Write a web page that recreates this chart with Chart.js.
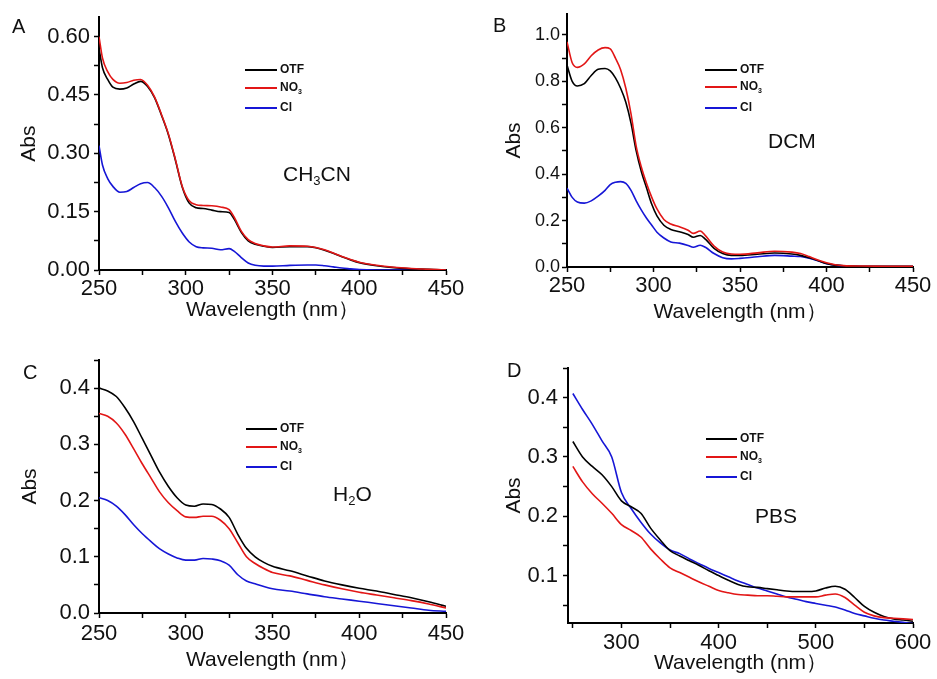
<!DOCTYPE html>
<html>
<head>
<meta charset="utf-8">
<script src="https://cdn.jsdelivr.net/npm/chart.js@4.4.1/dist/chart.umd.min.js"></script>
<style>
body{margin:0;background:#fff;}
#wrap{position:relative;width:937px;height:679px;}
canvas{position:absolute;}
</style>
</head>
<body>
<div id="wrap">
<canvas id="pa" width="468" height="340" style="left:0;top:0"></canvas>
<canvas id="pb" width="469" height="340" style="left:468px;top:0"></canvas>
<canvas id="pc" width="468" height="339" style="left:0;top:340px"></canvas>
<canvas id="pd" width="469" height="339" style="left:468px;top:340px"></canvas>
</div>
<script>
// --- A: CH3CN
var nmA  = [250,252,255,258,262,266,270,274,278,282,286,290,294,298,302,306,310,315,320,325,328,332,336,340,345,350,360,370,375,380,385,390,395,400,410,420,430,440,450];
var otfA = [0.57,0.52,0.49,0.47,0.465,0.468,0.478,0.485,0.472,0.443,0.398,0.348,0.283,0.213,0.172,0.160,0.158,0.154,0.150,0.148,0.130,0.097,0.075,0.066,0.061,0.058,0.060,0.060,0.057,0.051,0.043,0.034,0.026,0.019,0.011,0.006,0.003,0.002,0.000];
var no3A = [0.60,0.545,0.51,0.49,0.48,0.482,0.488,0.49,0.475,0.445,0.40,0.35,0.285,0.215,0.178,0.168,0.166,0.165,0.162,0.155,0.135,0.10,0.078,0.068,0.062,0.059,0.062,0.061,0.058,0.052,0.044,0.035,0.027,0.020,0.012,0.007,0.004,0.002,0.000];
var clA  = [0.32,0.27,0.235,0.215,0.20,0.202,0.212,0.222,0.225,0.212,0.19,0.16,0.125,0.095,0.072,0.060,0.057,0.056,0.052,0.055,0.048,0.032,0.018,0.012,0.010,0.010,0.012,0.013,0.013,0.011,0.008,0.005,0.003,0.001,0,0,0,0,0];

// --- B: DCM
var nmB  = [250,253,256,260,264,268,272,275,278,281,284,287,290,293,296,299,302,306,310,315,320,323,327,330,335,340,345,350,360,370,380,385,390,395,400,405,410,420,435,450];
var otfB = [0.87,0.80,0.78,0.79,0.825,0.852,0.855,0.845,0.815,0.77,0.71,0.62,0.50,0.41,0.34,0.27,0.22,0.18,0.162,0.152,0.14,0.128,0.136,0.12,0.08,0.058,0.05,0.05,0.055,0.06,0.056,0.05,0.04,0.028,0.015,0.008,0.005,0.003,0.003,0.003];
var no3B = [0.97,0.88,0.86,0.875,0.91,0.935,0.945,0.94,0.90,0.85,0.77,0.66,0.52,0.43,0.36,0.30,0.25,0.205,0.185,0.173,0.158,0.145,0.155,0.135,0.09,0.065,0.056,0.055,0.061,0.068,0.064,0.058,0.045,0.03,0.018,0.01,0.006,0.004,0.003,0.003];
var clB  = [0.34,0.30,0.28,0.275,0.285,0.305,0.33,0.355,0.365,0.368,0.36,0.33,0.285,0.245,0.21,0.18,0.15,0.125,0.108,0.103,0.093,0.085,0.094,0.085,0.058,0.04,0.035,0.037,0.044,0.05,0.047,0.045,0.038,0.027,0.014,0.008,0.004,0.002,0.002,0.002];

// --- C: H2O
var nmC  = [250,255,260,265,270,275,280,285,290,295,300,305,310,315,320,325,330,335,340,345,350,360,370,380,390,400,410,420,430,440,450];
var otfC = [0.40,0.395,0.385,0.365,0.34,0.31,0.28,0.25,0.225,0.205,0.192,0.19,0.194,0.193,0.185,0.17,0.14,0.115,0.10,0.09,0.083,0.075,0.066,0.057,0.05,0.044,0.039,0.033,0.027,0.02,0.012];
var no3C = [0.355,0.35,0.338,0.318,0.292,0.265,0.24,0.215,0.196,0.182,0.171,0.170,0.172,0.172,0.165,0.15,0.125,0.10,0.088,0.079,0.072,0.066,0.058,0.05,0.043,0.037,0.032,0.027,0.022,0.016,0.009];
var clC  = [0.205,0.20,0.19,0.175,0.157,0.141,0.127,0.114,0.105,0.098,0.094,0.094,0.097,0.096,0.093,0.085,0.068,0.057,0.052,0.047,0.043,0.039,0.034,0.029,0.025,0.021,0.017,0.013,0.009,0.005,0.003];

// --- D: PBS
var nmD  = [250,260,270,280,290,300,310,320,330,340,350,360,370,380,390,400,410,420,430,440,450,460,470,480,490,500,510,520,530,540,550,560,570,580,590,600];
var otfD = [0.326,0.30,0.284,0.27,0.25,0.226,0.216,0.205,0.18,0.16,0.142,0.133,0.125,0.117,0.108,0.10,0.092,0.085,0.081,0.080,0.078,0.076,0.074,0.073,0.073,0.074,0.079,0.082,0.077,0.063,0.048,0.038,0.031,0.027,0.025,0.023];
var no3D = [0.284,0.258,0.238,0.222,0.205,0.186,0.176,0.165,0.145,0.128,0.113,0.105,0.097,0.089,0.082,0.075,0.071,0.068,0.067,0.066,0.066,0.065,0.064,0.064,0.064,0.064,0.067,0.069,0.063,0.05,0.038,0.032,0.029,0.028,0.027,0.026];
var clD  = [0.407,0.38,0.355,0.327,0.30,0.24,0.213,0.19,0.17,0.155,0.143,0.137,0.128,0.12,0.112,0.105,0.098,0.091,0.085,0.079,0.074,0.069,0.064,0.06,0.056,0.053,0.05,0.047,0.042,0.036,0.032,0.028,0.025,0.023,0.021,0.019];

var seriesNames = ['OTF', 'NO3', 'Cl'];
var BLACK = '#000000', RED = 'rgb(226,22,22)', BLUE = 'rgb(22,22,214)';
var FONT = "'Liberation Sans', Arial, sans-serif";

// draws text, digits after a letter become subscripts (NO3, CH3CN, H2O)
function chemText(ctx, str, x, y, size, weight) {
  var parts = str.match(/[0-9]+|[^0-9]+/g) || [];
  var cx = x;
  parts.forEach(function (p, i) {
    var sub = /[0-9]/.test(p) && i > 0;
    ctx.font = weight + ' ' + (sub ? Math.round(size * 0.62) : size) + 'px ' + FONT;
    ctx.fillText(p, cx, sub ? y + size * 0.32 : y);
    cx += ctx.measureText(p).width;
  });
}

var decor = {
  id: 'decor',
  afterDraw: function (chart, args, o) {
    var ctx = chart.ctx;
    ctx.save();
    ctx.fillStyle = '#111';
    ctx.textBaseline = 'middle';
    ctx.textAlign = 'left';
    chemText(ctx, o.letter, o.letterX, o.letterY, 20, 'normal');
    chemText(ctx, o.solvent, o.solventX, o.solventY, 21, 'normal');
    chart.data.datasets.forEach(function (ds, i) {
      var y = o.rows[i];
      ctx.strokeStyle = ds.borderColor;
      ctx.lineWidth = 2;
      ctx.beginPath();
      ctx.moveTo(o.legX0, y);
      ctx.lineTo(o.legX1, y);
      ctx.stroke();
      chemText(ctx, ds.label, o.legX1 + 3, y, 12, 'bold');
    });
    ctx.restore();
  }
};

function stepTicks(step) {
  return function (scale) {
    var t = [];
    var n0 = Math.ceil(scale.min / step - 1e-9), n1 = Math.floor(scale.max / step + 1e-9);
    for (var n = n0; n <= n1; n++) t.push({value: +(n * step).toFixed(6)});
    scale.ticks = t;
  };
}
function labelEvery(step, dec) {
  return function (v) {
    var r = v / step;
    return Math.abs(r - Math.round(r)) < 1e-6 ? v.toFixed(dec) : '';
  };
}

function panel(id, nm, otf, no3, cl, p) {
  var pts = function (arr) { return nm.map(function (v, i) { return {x: v, y: arr[i]}; }); };
  var line = {borderWidth: 1.6, pointRadius: 0, cubicInterpolationMode: 'monotone', fill: false};
  return new Chart(document.getElementById(id).getContext('2d'), {
    type: 'line',
    data: {
      datasets: [
        Object.assign({label: seriesNames[0], data: pts(otf), borderColor: BLACK, order: 1}, line),
        Object.assign({label: seriesNames[1], data: pts(no3), borderColor: RED, order: 0}, line),
        Object.assign({label: seriesNames[2], data: pts(cl), borderColor: BLUE, order: 2}, line)
      ]
    },
    options: {
      responsive: false,
      animation: false,
      layout: {padding: {top: p.padTop, right: p.padRight, left: 0, bottom: 0}},
      plugins: {legend: {display: false}, tooltip: {enabled: false}, decor: p.decor},
      scales: {
        x: {
          type: 'linear', min: p.xMin, max: p.xMax,
          afterBuildTicks: stepTicks(p.xStep),
          afterFit: function (s) { s.height = p.xHeight; },
          grid: {drawOnChartArea: false, drawTicks: true, tickLength: 5, tickColor: '#000', tickWidth: 1.5},
          border: {display: true, color: '#000', width: 2},
          ticks: {autoSkip: false, maxRotation: 0, padding: p.xTickPad, color: '#111',
                  font: {family: FONT, size: 22}, callback: labelEvery(p.xLabelStep, 0)},
          title: {display: true, text: 'Wavelength (nm）', color: '#111',
                  font: {family: FONT, size: 21}, padding: {top: 0, bottom: p.xTitlePad}}
        },
        y: {
          type: 'linear', min: p.yMin, max: p.yMax,
          afterBuildTicks: stepTicks(p.yStep),
          afterFit: function (s) { s.width = p.yWidth; },
          grid: {drawOnChartArea: false, drawTicks: true, tickLength: 5, tickColor: '#000', tickWidth: 1.5},
          border: {display: true, color: '#000', width: 2},
          ticks: {autoSkip: false, padding: p.yTickPad, color: '#111',
                  font: {family: FONT, size: p.yTickSize}, callback: labelEvery(p.yLabelStep, p.yDec)},
          title: {display: true, text: 'Abs', color: '#111',
                  font: {family: FONT, size: 21}, padding: {top: p.yTitlePad, bottom: 0}}
        }
      }
    },
    plugins: [decor]
  });
}

panel('pa', nmA, otfA, no3A, clA, {
  xMin: 250, xMax: 450, xStep: 25, xLabelStep: 50,
  yMin: 0, yMax: 0.65, yStep: 0.075, yLabelStep: 0.15, yDec: 2, yTickSize: 22,
  padTop: 17, padRight: 22, yWidth: 99, xHeight: 70,
  xTickPad: 1, yTickPad: 4, xTitlePad: 17, yTitlePad: 17,
  decor: {letter: 'A', letterX: 12, letterY: 27, solvent: 'CH3CN', solventX: 283, solventY: 175,
          legX0: 245, legX1: 277, rows: [70, 88, 108]}
});

panel('pb', nmB, otfB, no3B, clB, {
  xMin: 250, xMax: 450, xStep: 25, xLabelStep: 50,
  yMin: 0, yMax: 1.09, yStep: 0.1, yLabelStep: 0.2, yDec: 1, yTickSize: 18,
  padTop: 14, padRight: 24, yWidth: 99, xHeight: 73,
  xTickPad: 1, yTickPad: 2, xTitlePad: 15, yTitlePad: 34,
  decor: {letter: 'B', letterX: 25, letterY: 26, solvent: 'DCM', solventX: 300, solventY: 142,
          legX0: 237, legX1: 269, rows: [70, 87, 108]}
});

panel('pc', nmC, otfC, no3C, clC, {
  xMin: 250, xMax: 450, xStep: 25, xLabelStep: 50,
  yMin: 0, yMax: 0.45, yStep: 0.05, yLabelStep: 0.1, yDec: 1, yTickSize: 22,
  padTop: 20, padRight: 22, yWidth: 99, xHeight: 66,
  xTickPad: 3, yTickPad: 4, xTitlePad: 6, yTitlePad: 18,
  decor: {letter: 'C', letterX: 23, letterY: 33, solvent: 'H2O', solventX: 333, solventY: 155,
          legX0: 246, legX1: 277, rows: [89, 107, 127]}
});

panel('pd', nmD, otfD, no3D, clD, {
  xMin: 245, xMax: 600, xStep: 50, xLabelStep: 100,
  yMin: 0.02, yMax: 0.45, yStep: 0.05, yLabelStep: 0.1, yDec: 1, yTickSize: 22,
  padTop: 28, padRight: 24, yWidth: 100, xHeight: 56,
  xTickPad: 2, yTickPad: 5, xTitlePad: 3, yTitlePad: 34,
  decor: {letter: 'D', letterX: 39, letterY: 31, solvent: 'PBS', solventX: 287, solventY: 177,
          legX0: 238, legX1: 269, rows: [99, 117, 137]}
});
</script>
</body>
</html>
